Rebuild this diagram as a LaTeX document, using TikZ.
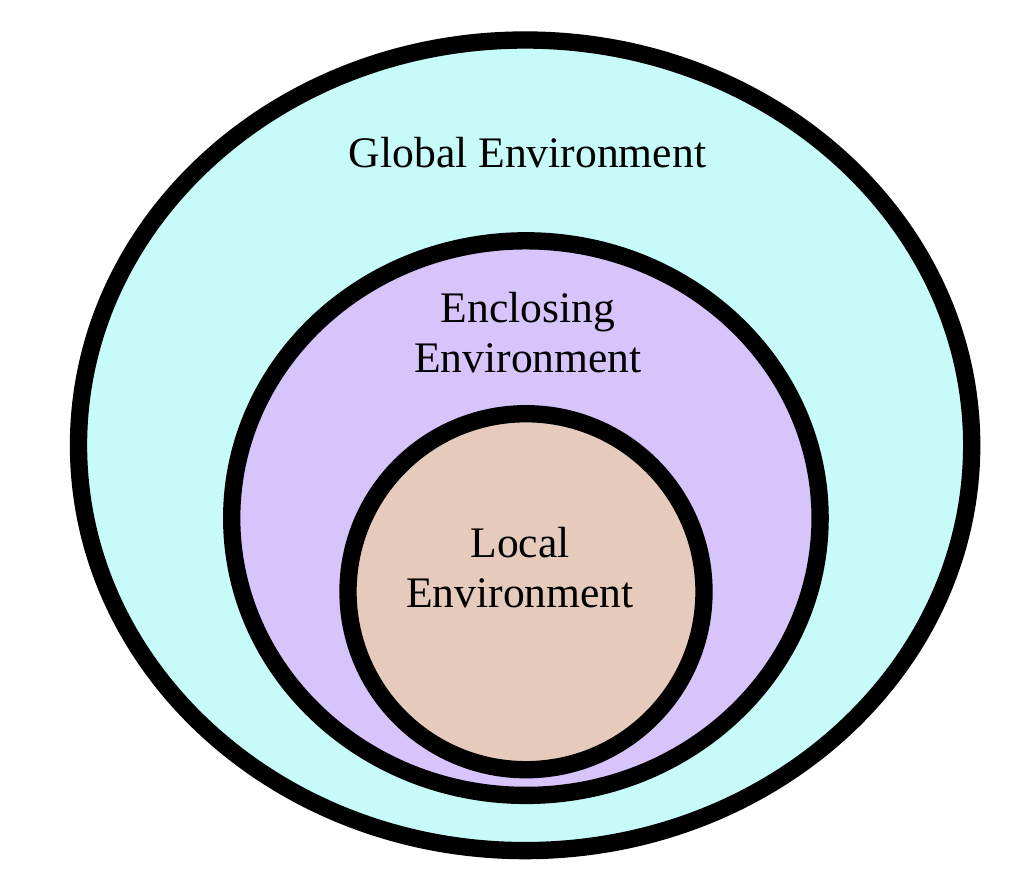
\documentclass[tikz,border=0pt]{standalone}
\usepackage{fontspec}
\setmainfont{Liberation Serif}
\tikzset{every picture/.style={line width=0.75pt}}
\tikzset{
	ring/.style={draw={rgb, 255:red, 0; green, 0; blue, 0 }, line width=13pt},
	envlabel/.style={inner sep=0.75pt, align=center, font=\fontsize{32.7}{37.5}\selectfont}}

\begin{document}
\begin{tikzpicture}[x=0.75pt,y=0.75pt,yscale=-1,xscale=1]
	\path (0,0) rectangle (1010,894); %set diagram to the size of the reference
	
	%Shape: Ellipse [id:global] 
	\draw  [ring, fill={rgb, 255:red, 198; green, 251; blue, 250 }  ,fill opacity=1 ] (525.1,445.3) ellipse [x radius=446.6, y radius=405.3] ;
	%Shape: Ellipse [id:enclosing] 
	\draw  [ring, fill={rgb, 255:red, 215; green, 196; blue, 250 }  ,fill opacity=1 ] (525.9,518.1) ellipse [x radius=294.2, y radius=277.3] ;
	%Shape: Circle [id:local] 
	\draw  [ring, fill={rgb, 255:red, 230; green, 203; blue, 188 }  ,fill opacity=1 ] (526,591.7) circle [radius=178] ;
	
	% Text Node
	\draw (527.5,167.7) node [anchor=base][envlabel] (globaltxt) {Global Environment};
	% Text Node
	\draw (528,372) node [anchor=base][envlabel] (enclosingtxt) {Enclosing\\Environment};
	% Text Node
	\draw (520,607) node [anchor=base][envlabel] (localtxt) {Local\\Environment};
	
\end{tikzpicture}
\end{document}
